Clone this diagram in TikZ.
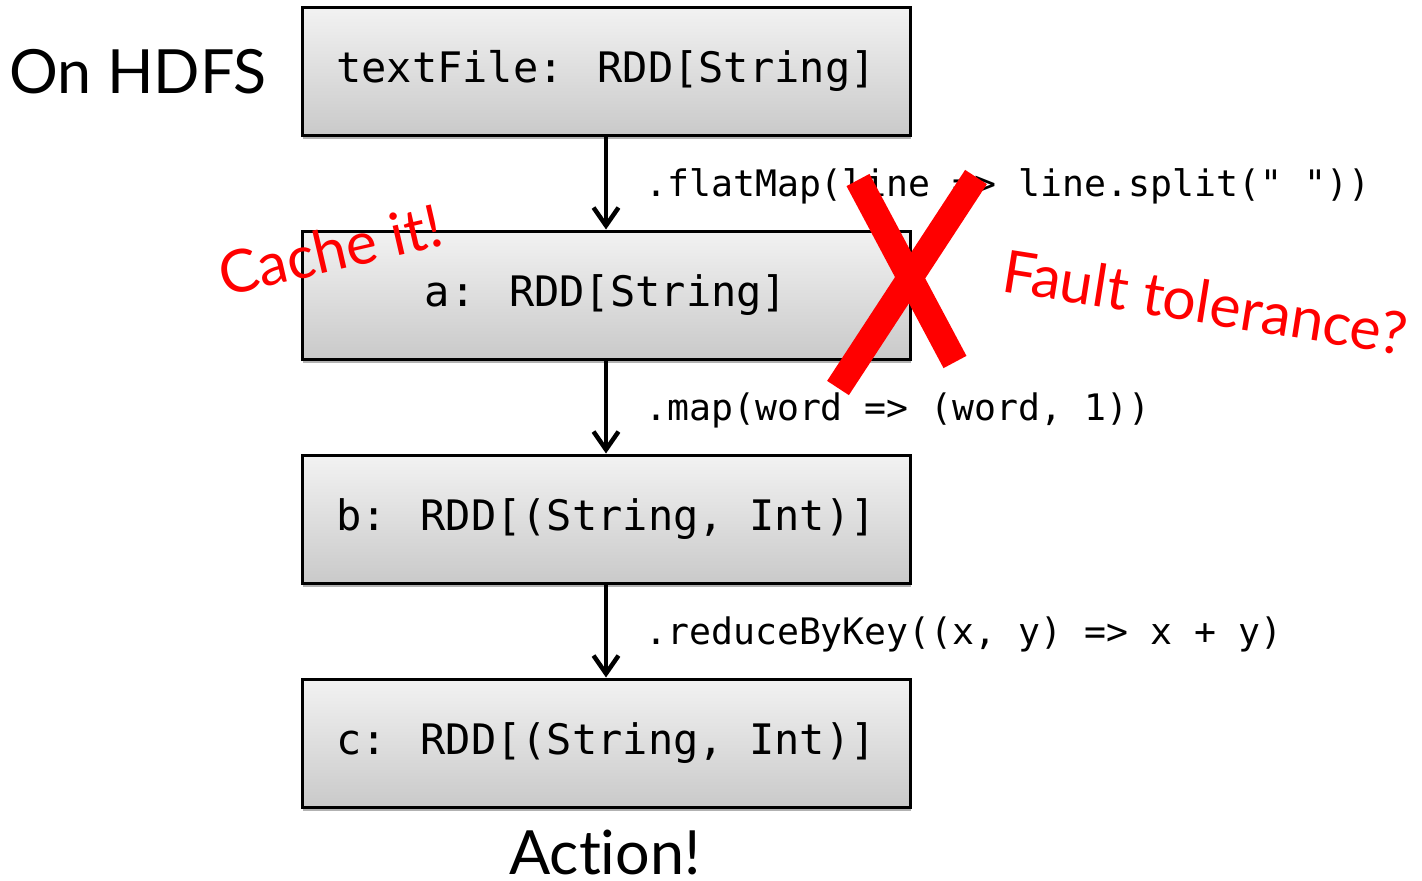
\documentclass[tikz,border=0pt]{standalone}
\usepackage{fontspec}
\setmainfont{Lato}[Ligatures=NoCommon]
\newfontfamily\codefont{DejaVu Sans Mono}
\usetikzlibrary{arrows.meta,shadows}
\tikzset{
  rdd/.style={draw=black, line width=3pt, top color=gray!10, bottom color=gray!42,
    minimum width=608pt, minimum height=128pt, inner sep=0pt,
    drop shadow={shadow xshift=1pt, shadow yshift=-4pt, opacity=0.3, fill=black},
    font=\codefont\fontsize{42}{50}\selectfont},
  op/.style={anchor=base west, inner sep=0pt, font=\codefont\fontsize{36.5}{44}\selectfont},
  flow/.style={line width=4.5pt, -{Straight Barb[length=18pt,width=25pt,line width=4.5pt]}},
  note/.style={text=red, inner sep=0pt, font=\fontsize{59}{70}\selectfont},
  plain/.style={inner sep=0pt, font=\fontsize{61}{72}\selectfont},
  cross/.style={draw=red, line width=26pt}
}
\begin{document}
\begin{tikzpicture}[x=1pt,y=-1pt]
\useasboundingbox[fill=white] (0,0) rectangle (1422,881);
\node[rdd] (t) at (606,71) {textFile: RDD[String]};
\node[rdd] (a) at (606,295) {a: RDD[String]};
\node[rdd] (b) at (606,519) {b: RDD[(String, Int)]};
\node[rdd] (c) at (606,743) {c: RDD[(String, Int)]};
\draw[flow] (t) -- (a);
\draw[flow] (a) -- (b);
\draw[flow] (b) -- (c);
\node[op] (l1) at (645,196) {.flatMap(line => line.split(" "))};
\node[op] (l2) at (645,420) {.map(word => (word, 1))};
\node[op] (l3) at (645,644) {.reduceByKey((x, y) => x + y)};
\node[plain] (hdfs) at (138,72) {On HDFS};
\node[plain] (act) at (605,852) {Action!};
\node[note, rotate=13] (cache) at (330,250) {Cache it!};
\node[note, rotate=-9] (fault) at (1205,302) {Fault tolerance?};
\draw[cross] (858,180) -- (955,362);
\draw[cross] (976,177) -- (838,388);
\end{tikzpicture}
\end{document}
